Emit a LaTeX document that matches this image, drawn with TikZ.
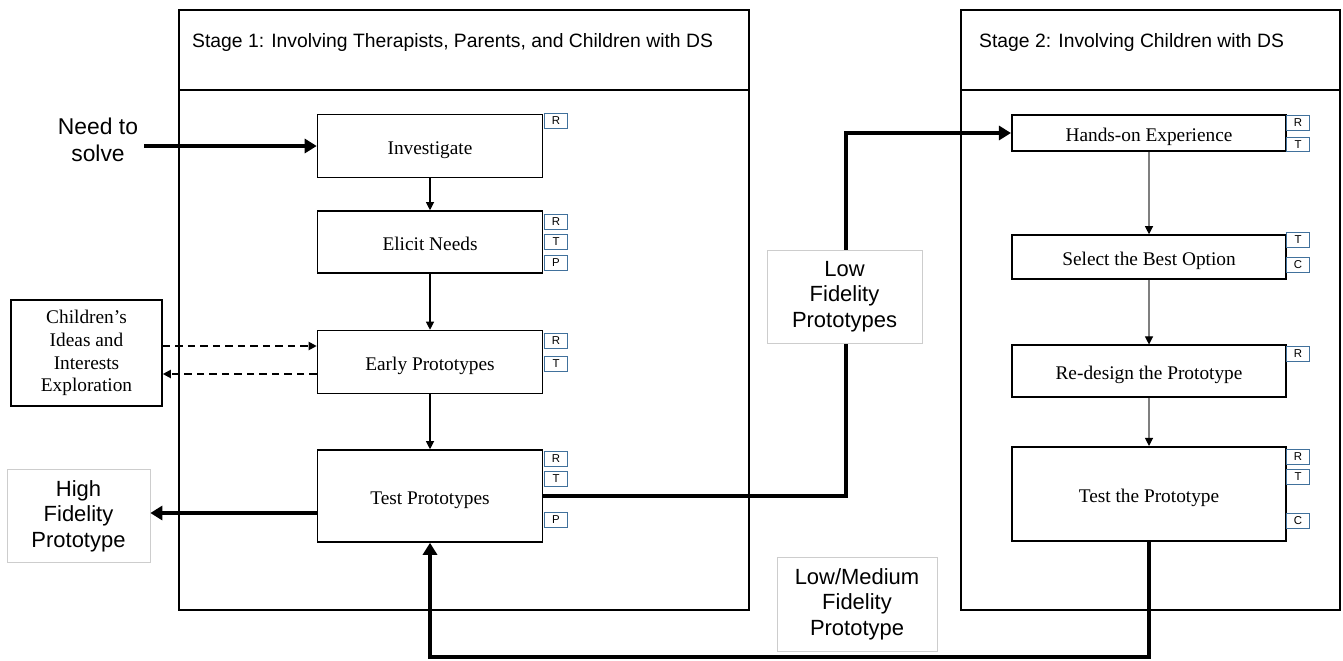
\documentclass[tikz,border=0pt]{standalone}
\usepackage{fontspec}
\setmainfont{Liberation Serif}
\setsansfont{Liberation Sans}
\usetikzlibrary{positioning,arrows.meta,calc}
\definecolor{tagblue}{HTML}{41719C}
\definecolor{notegray}{HTML}{CDCDCD}
\definecolor{flowgray}{HTML}{7F7F7F}

\begin{document}
\begin{tikzpicture}[
  x=0.2mm, y=-0.2mm,
  frame/.style={draw,line width=0.6pt},
  stagebox/.style={draw,line width=0.9pt,inner sep=0pt,text height=2.2ex,text depth=0pt,font=\fontsize{11}{13}\selectfont},
  tag/.style={draw=tagblue,line width=0.7pt,minimum width=4.5mm,minimum height=2.9mm,inner sep=0pt,font=\sffamily\fontsize{6.5}{6.5}\selectfont},
  note/.style={draw=notegray,line width=0.4pt,fill=white,align=center,inner sep=0pt,font=\sffamily\fontsize{12.5}{14.5}\selectfont},
  link/.style={-{Triangle[length=1.6mm,width=1.6mm,color=black,fill=black]},line width=0.6pt},
  dashlink/.style={-{Triangle[length=1.6mm,width=1.6mm]},line width=1.1pt,dash pattern=on 1.5mm off 1mm},
  boldlink/.style={-{Triangle[length=2.4mm,width=2.8mm]},line width=2.4pt}
]
\useasboundingbox (0,0) rectangle (1343,660);

% stage frames
\draw[frame] (179,10) rectangle (749,90);
\draw[frame] (179,90) rectangle (749,610);
\draw[frame] (961,10) rectangle (1340,90);
\draw[frame] (961,90) rectangle (1340,610);
\node[anchor=west,font=\sffamily\fontsize{11}{13}\selectfont] (title1) at (186,42) {Stage 1: Involving Therapists, Parents, and Children with DS};
\node[anchor=west,font=\sffamily\fontsize{11}{13}\selectfont] (title2) at (973,42) {Stage 2: Involving Children with DS};

% stage 1
\node[stagebox,minimum width=45mm,minimum height=12.6mm] (inv) at (430,146) {Investigate};
\node[stagebox,minimum width=45mm,minimum height=12.4mm] (eli) at (430,242) {Elicit Needs};
\node[stagebox,minimum width=45mm,minimum height=12.6mm] (early) at (430,362) {Early Prototypes};
\node[stagebox,minimum width=45mm,minimum height=18.4mm] (test) at (430,496) {Test Prototypes};
\draw[link] (inv) -- (eli);
\draw[link] (eli) -- (early);
\draw[link] (early) -- (test);

% stage 2
\node[stagebox,minimum width=54.9mm,minimum height=7.3mm] (hands) at (1149,133) {Hands-on Experience};
\node[stagebox,minimum width=54.9mm,minimum height=8.8mm] (select) at (1149,257) {Select the Best Option};
\node[stagebox,minimum width=54.9mm,minimum height=10.3mm] (redesign) at (1149,371) {Re-design the Prototype};
\node[stagebox,minimum width=54.9mm,minimum height=18.9mm] (tproto) at (1149,494) {Test the Prototype};
\draw[link,flowgray] (hands) -- (select);
\draw[link,flowgray] (select) -- (redesign);
\draw[link,flowgray] (redesign) -- (tproto);

% role tags
\foreach \n/\l/\y in {invR/R/121, eliR/R/222, eliT/T/242, eliP/P/263,
  earlyR/R/341, earlyT/T/364, testR/R/459, testT/T/479, testP/P/520}
  \node[tag] (\n) at (556,\y) {\l};
\foreach \n/\l/\y in {handsR/R/123, handsT/T/144.5, selectT/T/240, selectC/C/265,
  redesignR/R/354, tprotoR/R/457, tprotoT/T/477, tprotoC/C/521}
  \node[tag] (\n) at (1298,\y) {\l};

% outside stage 1
\node[align=center,font=\sffamily\fontsize{13}{15}\selectfont] (need) at (98,140) {Need to\\solve};
\draw[boldlink] (need.east |- inv.west) -- (inv.west);

\node[draw,line width=0.9pt,align=center,minimum width=30.2mm,minimum height=21.2mm,inner sep=0pt,
  font=\fontsize{11}{13}\selectfont] (ideas) at (86.5,353) {Children's\\Ideas and\\Interests\\Exploration};
\draw[dashlink] (ideas.east |- 0,346) -- (early.west |- 0,346);
\draw[dashlink] (early.west |- 0,374) -- (ideas.east |- 0,374);

\node[note,minimum width=28.6mm,minimum height=18.6mm] (hifi) at (78.5,516) {High\\Fidelity\\Prototype};
\draw[boldlink] (test.west |- 0,513) -- (hifi.east |- 0,513);

% between the stages
\coordinate (turn) at (846,0);
\draw[line width=2.4pt,-{Triangle[length=2.4mm,width=2.8mm]}] (test.east) -| (turn |- hands.west) -- (hands.west);
\node[note,minimum width=31mm,minimum height=18.6mm] (lowfid) at (844.5,296.5) {Low\\Fidelity\\Prototypes};

\coordinate (loop) at (0,657);
\draw[boldlink] (tproto.south) -- (tproto.south |- loop) -| (test.south);
\node[note,minimum width=32mm,minimum height=18.8mm] (lowmed) at (857,604) {Low/Medium\\Fidelity\\Prototype};
\end{tikzpicture}
\end{document}
